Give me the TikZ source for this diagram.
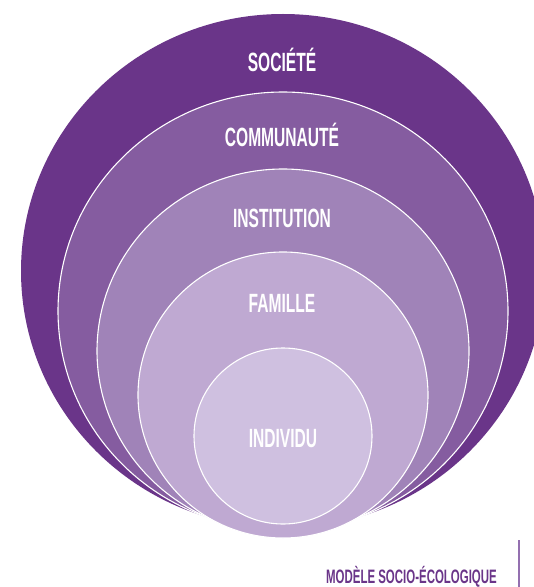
\documentclass[tikz,border=0pt]{standalone}
\usepackage{fontspec}
\newfontfamily\labfont{Liberation Sans}[FakeStretch=0.59]
\definecolor{societe}{HTML}{6A3589}
\definecolor{communaute}{HTML}{855CA0}
\definecolor{institution}{HTML}{A083B8}
\definecolor{famille}{HTML}{BFA9D2}
\definecolor{individu}{HTML}{CFC0E0}
\definecolor{rule}{HTML}{9470B0}
\tikzset{
  ring/.style={draw=white, line width=1.1bp},
  lab/.style={anchor=base, text=white, inner sep=0pt, font=\labfont\bfseries\fontsize{26.5}{26.5}\selectfont},
  caption/.style={anchor=base east, text=societe, inner sep=0pt, font=\labfont\bfseries\fontsize{19.5}{19.5}\selectfont}
}
\begin{document}
\begin{tikzpicture}[x=1bp,y=-1bp]
\useasboundingbox (0,0) rectangle (534,587);
\clip (0,0) rectangle (534,587);
\fill[societe] (283,271) ellipse [x radius=262, y radius=257];
\filldraw[ring, fill=communaute] (283,311) ellipse [x radius=225, y radius=219];
\filldraw[ring, fill=institution] (283,351) ellipse [x radius=186, y radius=182];
\filldraw[ring, fill=famille] (283,395) ellipse [x radius=145, y radius=143];
\filldraw[ring, fill=individu] (283,436) ellipse [x radius=89, y radius=88];
\node[lab] (soc) at (282,72) {SOCIÉTÉ};
\node[lab] (com) at (282,147) {COMMUNAUTÉ};
\node[lab] (ins) at (282,227) {INSTITUTION};
\node[lab] (fam) at (282,312) {FAMILLE};
\node[lab] (ind) at (283,447) {INDIVIDU};
\node[caption] (cap) at (497,583) {MODÈLE SOCIO-ÉCOLOGIQUE};
\coordinate (rtop) at (519,540);
\coordinate (rbot) at (519,587);
\draw[rule, line width=1.5bp] (rtop) -- (rbot);
\end{tikzpicture}
\end{document}
